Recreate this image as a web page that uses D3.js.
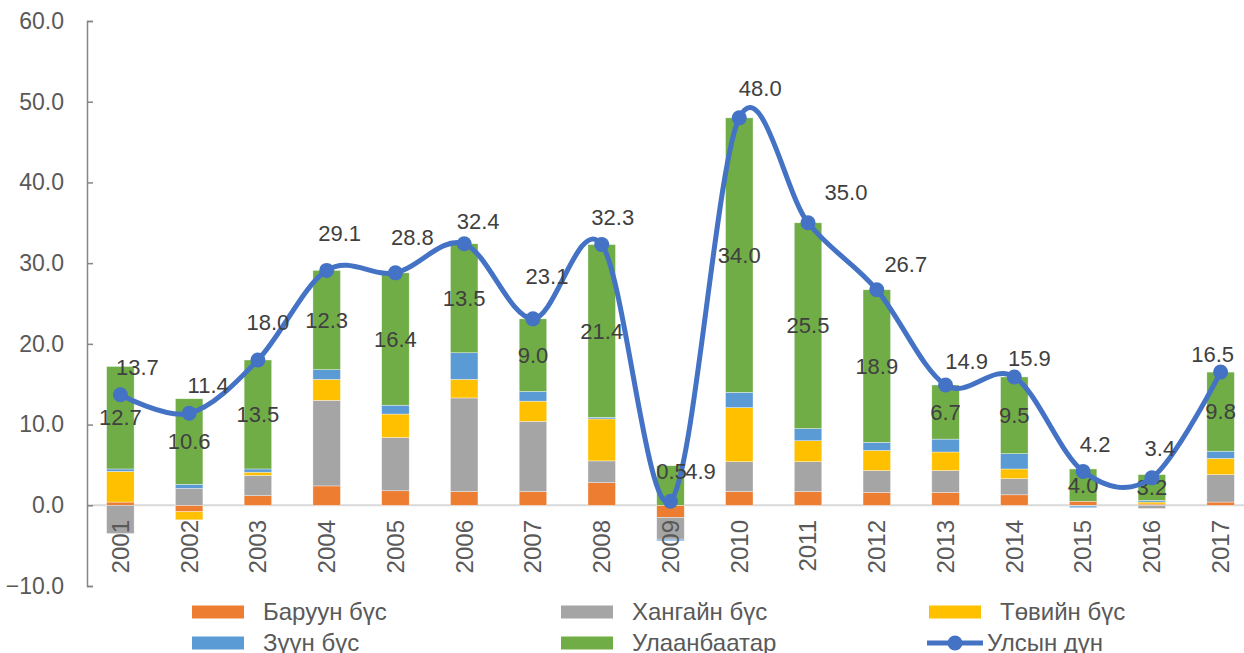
<!DOCTYPE html>
<html>
<head>
<meta charset="utf-8">
<script src="https://cdn.jsdelivr.net/npm/d3@7"></script>
<style>
    body { margin: 0; background: #fff; }
    svg { font-family: "Liberation Sans", Arial, sans-serif; }
</style>
</head>
<body>
<div id="chart"></div>
<script>
var width = 1244;
var height = 653;

var years = ["2001", "2002", "2003", "2004", "2005", "2006", "2007", "2008", "2009",
    "2010", "2011", "2012", "2013", "2014", "2015", "2016", "2017"];

// regional contributions, stacked in this order
var baruun = [0.4, -0.8, 1.2, 2.4, 1.8, 1.7, 1.7, 2.8, -1.5, 1.7, 1.7, 1.6, 1.6, 1.3, 0.5, 0.15, 0.4];
var khangai = [-3.5, 2.1, 2.5, 10.6, 6.6, 11.6, 8.7, 2.7, -2.7, 3.7, 3.7, 2.7, 2.7, 2.0, -0.1, -0.4, 3.4];
var tuv = [3.8, -1.0, 0.4, 2.6, 2.9, 2.3, 2.5, 5.2, 0.0, 6.7, 2.6, 2.5, 2.3, 1.2, 0.0, 0.25, 2.0];
var zuun = [0.3, 0.5, 0.4, 1.2, 1.1, 3.3, 1.2, 0.2, -0.2, 1.9, 1.5, 1.0, 1.6, 1.9, -0.2, 0.2, 0.9];
var ub = [12.7, 10.6, 13.5, 12.3, 16.4, 13.5, 9.0, 21.4, 4.9, 34.0, 25.5, 18.9, 6.7, 9.5, 4.0, 3.2, 9.8];
var total = [13.7, 11.4, 18.0, 29.1, 28.8, 32.4, 23.1, 32.3, 0.5, 48.0, 35.0, 26.7, 14.9, 15.9, 4.2, 3.4, 16.5];

var yTicks = [-10, 0, 10, 20, 30, 40, 50, 60];

// hand-placed label offsets from the point (pixels), as in the original
var totalDx = [17, 19, 10, 13, 17, 14, 14, 11, 1, 21, 38, 29, 21, 15, 12, 8, -8];
var totalDy = [-27, -28, -38, -37, -36, -22, -43, -27, -30, -30, -30, -25, -24, -19, -27, -30, -18];

var series = [
    {key: "baruun", name: "Баруун бүс", color: "#ED7D31", values: baruun},
    {key: "khangai", name: "Хангайн бүс", color: "#A5A5A5", values: khangai},
    {key: "tuv", name: "Төвийн бүс", color: "#FFC000", values: tuv},
    {key: "zuun", name: "Зүүн бүс", color: "#5B9BD5", values: zuun},
    {key: "ub", name: "Улаанбаатар", color: "#70AD47", values: ub}
];
var lineColor = "#4472C4";

var rows = years.map(function (yr, i) {
    var row = {year: yr, total: total[i], i: i};
    series.forEach(function (s) { row[s.key] = s.values[i]; });
    return row;
});

var svg = d3.select("#chart").append("svg")
    .attr("width", width)
    .attr("height", height);

var x = d3.scaleBand().domain(years).range([86, 1255])
    .paddingInner(0.6).paddingOuter(0.3);
var y = d3.scaleLinear().domain([-10, 60]).range([586, 21]);

// zero line
svg.append("line")
    .attr("x1", 87).attr("x2", width)
    .attr("y1", y(0)).attr("y2", y(0))
    .attr("stroke", "#D9D9D9").attr("stroke-width", 2);

// y axis
var yAxis = svg.append("g")
    .attr("transform", "translate(87,0)")
    .call(d3.axisLeft(y).tickValues(yTicks).tickFormat(d3.format(".1f"))
        .tickSize(-6).tickPadding(23));
yAxis.select(".domain").attr("stroke", "#868686").attr("stroke-width", 1.5);
yAxis.selectAll(".tick line").attr("stroke", "#868686").attr("stroke-width", 1.5);
yAxis.selectAll(".tick text")
    .attr("fill", "#595959").attr("font-size", "23px")
    .attr("font-family", "Liberation Sans, Arial, sans-serif");

// stacked bars
var stack = d3.stack().keys(series.map(s => s.key)).offset(d3.stackOffsetDiverging);
var stacked = stack(rows);

svg.selectAll("g.layer")
    .data(stacked).enter().append("g")
    .attr("class", "layer")
    .attr("fill", (d, i) => series[i].color)
    .selectAll("rect")
    .data(d => d).enter().append("rect")
    .attr("x", d => x(d.data.year))
    .attr("width", x.bandwidth())
    .attr("y", d => y(Math.max(d[0], d[1])))
    .attr("height", d => Math.abs(y(d[0]) - y(d[1])))
    .attr("stroke", "#ffffff").attr("stroke-width", 0.6).attr("stroke-opacity", 0.6);

// x labels, rotated
svg.selectAll("text.year")
    .data(years).enter().append("text")
    .attr("class", "year")
    .attr("transform", d => "translate(" + (x(d) + x.bandwidth() / 2) + ",520) rotate(-90)")
    .attr("text-anchor", "end")
    .attr("dy", "0.35em")
    .attr("fill", "#595959").attr("font-size", "24px")
    .text(d => d);

// Ulaanbaatar segment labels (2009 one was dragged aside in the original)
var ubLayer = stacked[stacked.length - 1];
svg.selectAll("text.ublabel")
    .data(ubLayer).enter().append("text")
    .attr("class", "ublabel")
    .attr("x", d => x(d.data.year) + x.bandwidth() / 2 + (d.data.year === "2009" ? 30 : 0))
    .attr("y", d => y((d[0] + d[1]) / 2) + (d.data.year === "2009" ? -14 : 0))
    .attr("dy", "0.35em")
    .attr("text-anchor", "middle")
    .attr("fill", "#404040").attr("font-size", "22px")
    .text(d => d3.format(".1f")(d.data.ub));

// national total line
var cx = d => x(d.year) + x.bandwidth() / 2;
var line = d3.line().x(cx).y(d => y(d.total)).curve(d3.curveCardinal.tension(0));
svg.append("path")
    .datum(rows)
    .attr("d", line)
    .attr("fill", "none").attr("stroke", lineColor).attr("stroke-width", 5);

svg.selectAll("circle.pt")
    .data(rows).enter().append("circle")
    .attr("class", "pt")
    .attr("cx", cx).attr("cy", d => y(d.total))
    .attr("r", 7.5).attr("fill", lineColor);

svg.selectAll("text.total")
    .data(rows).enter().append("text")
    .attr("class", "total")
    .attr("x", d => cx(d) + totalDx[d.i])
    .attr("y", d => y(d.total) + totalDy[d.i])
    .attr("dy", "0.35em")
    .attr("text-anchor", "middle")
    .attr("fill", "#404040").attr("font-size", "22px")
    .text(d => d3.format(".1f")(d.total));

// legend
var legendItems = [
    {name: series[0].name, color: series[0].color, sx: 192, tx: 263, ly: 612},
    {name: series[1].name, color: series[1].color, sx: 561, tx: 632, ly: 612},
    {name: series[2].name, color: series[2].color, sx: 929, tx: 1000, ly: 612},
    {name: series[3].name, color: series[3].color, sx: 192, tx: 263, ly: 643},
    {name: series[4].name, color: series[4].color, sx: 561, tx: 632, ly: 643},
    {name: "Улсын дүн", color: lineColor, sx: 927, tx: 987, ly: 643, line: true}
];
var legend = svg.selectAll("g.legend")
    .data(legendItems).enter().append("g")
    .attr("class", "legend");
legend.filter(d => !d.line).append("rect")
    .attr("x", d => d.sx).attr("y", d => d.ly - 6.5)
    .attr("width", 52).attr("height", 13)
    .attr("fill", d => d.color);
legend.filter(d => d.line).append("line")
    .attr("x1", d => d.sx).attr("x2", d => d.sx + 56)
    .attr("y1", d => d.ly).attr("y2", d => d.ly)
    .attr("stroke", d => d.color).attr("stroke-width", 5);
legend.filter(d => d.line).append("circle")
    .attr("cx", d => d.sx + 28).attr("cy", d => d.ly)
    .attr("r", 7.5).attr("fill", d => d.color);
legend.append("text")
    .attr("x", d => d.tx).attr("y", d => d.ly)
    .attr("dy", "0.35em")
    .attr("fill", "#595959").attr("font-size", "24px")
    .text(d => d.name);
</script>
</body>
</html>
